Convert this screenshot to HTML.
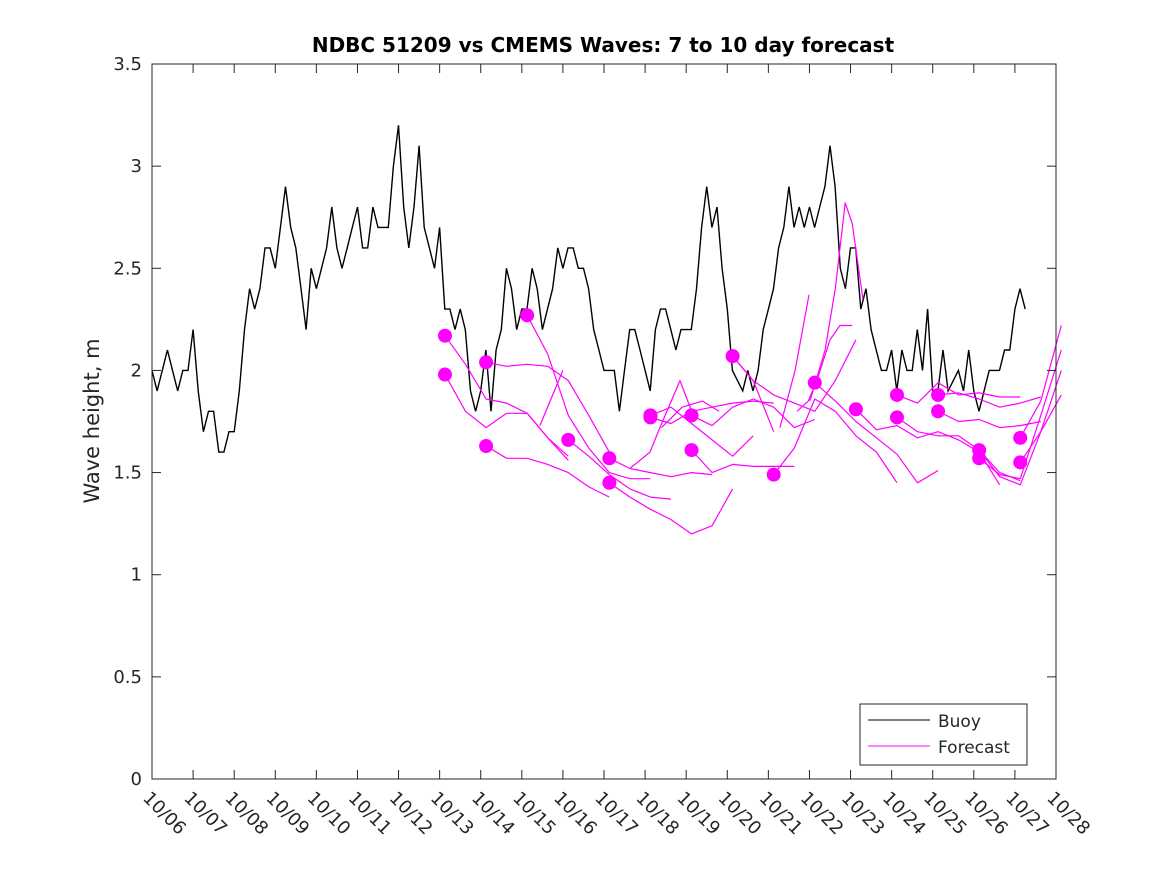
<!DOCTYPE html>
<html><head><meta charset="utf-8"><style>
body{margin:0;background:#fff;}
svg{display:block;font-family:"DejaVu Sans","Liberation Sans",sans-serif;}
</style></head><body>
<svg id="chart" width="1167" height="875" viewBox="0 0 1167 875">
<rect x="0" y="0" width="1167" height="875" fill="#fff"/>
<text x="603" y="52" text-anchor="middle" font-size="20" font-weight="bold">NDBC 51209 vs CMEMS Waves: 7 to 10 day forecast</text>
<text transform="translate(99,421) rotate(-90)" text-anchor="middle" font-size="21" fill="#262626">Wave height, m</text>
<g id="series"></g>
<rect x="152" y="64" width="904" height="715" fill="none" stroke="#262626" stroke-width="1"/>
<g id="axes"></g>
<g>
<rect x="860" y="704" width="167" height="61" fill="#fff" stroke="#262626" stroke-width="1"/>
<line x1="868" y1="720" x2="930" y2="720" stroke="#000" stroke-width="1"/>
<text x="938" y="727" font-size="17" fill="#262626">Buoy</text>
<line x1="868" y1="746" x2="930" y2="746" stroke="#f0f" stroke-width="1"/>
<text x="938" y="753" font-size="17" fill="#262626">Forecast</text>
</g>
</svg>
<script>
const xTickLabels=["10/06","10/07","10/08","10/09","10/10","10/11","10/12","10/13","10/14","10/15","10/16","10/17","10/18","10/19","10/20","10/21","10/22","10/23","10/24","10/25","10/26","10/27","10/28"];
const yTicks=[0,0.5,1,1.5,2,2.5,3,3.5];
const yTickLabels=["0","0.5","1","1.5","2","2.5","3","3.5"];
// buoy values every 0.125 day from 10/06
const buoyStep=0.125;
const buoyValues=[
2.0,1.9,2.0,2.1,2.0,1.9,2.0,2.0,2.2,1.9,1.7,1.8,1.8,1.6,1.6,1.7,1.7,1.9,2.2,2.4,
2.3,2.4,2.6,2.6,2.5,2.7,2.9,2.7,2.6,2.4,2.2,2.5,2.4,2.5,2.6,2.8,2.6,2.5,2.6,2.7,
2.8,2.6,2.6,2.8,2.7,2.7,2.7,3.0,3.2,2.8,2.6,2.8,3.1,2.7,2.6,2.5,2.7,2.3,2.3,
2.2,2.3,2.2,1.9,1.8,1.9,2.1,1.8,2.1,2.2,2.5,2.4,2.2,2.3,2.3,2.5,2.4,2.2,2.3,2.4,
2.6,2.5,2.6,2.6,2.5,2.5,2.4,2.2,2.1,2.0,2.0,2.0,1.8,2.0,2.2,2.2,2.1,2.0,1.9,2.2,
2.3,2.3,2.2,2.1,2.2,2.2,2.2,2.4,2.7,2.9,2.7,2.8,2.5,2.3,2.0,1.95,
1.9,2.0,1.9,2.0,2.2,2.3,2.4,2.6,2.7,2.9,2.7,2.8,2.7,2.8,2.7,2.8,2.9,3.1,2.9,2.5,
2.4,2.6,2.6,2.3,2.4,2.2,2.1,2.0,2.0,2.1,1.9,2.1,2.0,2.0,2.2,2.0,2.3,1.9,1.9,2.1,
1.9,1.95,2.0,1.9,2.1,1.9,1.8,1.9,2.0,2.0,2.0,2.1,2.1,2.3,2.4,2.3];
// forecast runs: start day (days since 10/06), values every 0.5 day
const fcStart=[7.13,7.13,8.13,8.13,9.13,10.13,11.13,11.13,12.13,12.13,13.13,13.13,14.13,14.13,15.13,16.13,17.13,18.13,18.13,19.13,19.13,20.13,20.13,21.13,21.13];
const fcValues=[
[2.17,2.03,1.86,1.84,1.79,1.67,1.56],
[1.98,1.80,1.72,1.79,1.79,1.67,1.58],
[2.04,2.02,2.03,2.02,1.95,1.78,1.60],
[1.63,1.57,1.57,1.54,1.50,1.43,1.38],
[2.27,2.08,1.78,1.62,1.50,1.47,1.47],
[1.66,1.58,1.49,1.42,1.38,1.37],
[1.57,1.52,1.50,1.48,1.50,1.49],
[1.45,1.38,1.32,1.27,1.20,1.24,1.42],
[1.78,1.82,1.74,1.66,1.58,1.68],
[1.77,1.74,1.80,1.82,1.84,1.85,1.84],
[1.78,1.73,1.82,1.86,1.82,1.72,1.76],
[1.61,1.50,1.54,1.53,1.53,1.53],
[2.07,1.95,1.88,1.84,1.80,1.95,2.15],
[2.07,1.95,1.70],
[1.49,1.62,1.86,1.80,1.68,1.60,1.45],
[1.94,1.85,1.75,1.67,1.59,1.45,1.51],
[1.81,1.71,1.73,1.67,1.70,1.66,1.60,1.44],
[1.88,1.84,1.94,1.88,1.89,1.87,1.87],
[1.77,1.70,1.68,1.68,1.61,1.50,1.46],
[1.88,1.89,1.86,1.82,1.84,1.87],
[1.80,1.75,1.76,1.72,1.73,1.75],
[1.61,1.48,1.44,1.70,2.0],
[1.57,1.49,1.47,1.78,2.1],
[1.67,1.85,2.22],
[1.55,1.70,1.88]
];
const fcDot=[1,1,1,1,1,1,1,1,1,1,1,1,1,0,1,1,1,1,1,1,1,1,1,1,1];
// extra forecast segments whose start markers are hidden
const extraDays=[[15.28,15.65,15.99],[16.01,16.38,16.63,16.87,17.04,17.3],[15.70,15.97,16.18,16.5,16.74,17.04],[11.63,12.12,12.36,12.85,13.17],[9.44,10.0],[12.4,12.9,13.4,13.8]];
const extraVals=[[1.72,2.0,2.37],[1.85,2.1,2.4,2.82,2.72,2.35],[1.80,1.85,1.95,2.15,2.22,2.22],[1.52,1.6,1.72,1.95,1.78],[1.73,2.0],[1.72,1.82,1.85,1.80]];

const X0=152,X1=1056,Y0=779,Y1=64;
const xs=d=>X0+d*(X1-X0)/22;
const ys=v=>Y0-v*(Y0-Y1)/3.5;
const NS="http://www.w3.org/2000/svg";
const axes=document.getElementById('axes'),series=document.getElementById('series');
function mk(tag,attrs,parent){const e=document.createElementNS(NS,tag);for(const k in attrs)e.setAttribute(k,attrs[k]);parent.appendChild(e);return e;}
xTickLabels.forEach((lab,i)=>{
  const x=xs(i);
  const t=mk('line',{x1:x,y1:Y0,x2:x,y2:Y0-9,stroke:'#262626'},axes);
  
  
  const t2=mk('line',{x1:x,y1:Y1,x2:x,y2:Y1+9,stroke:'#262626'},axes);
  
  
  const tx=mk('text',{transform:`translate(${x-10},${Y0+20}) rotate(45)`,'font-size':18,fill:'#262626'},axes);
  tx.textContent=lab;
  
  
});
yTicks.forEach((v,i)=>{
  const y=ys(v);
  const t=mk('line',{x1:X0,y1:y,x2:X0+9,y2:y,stroke:'#262626'},axes);
  
  
  const t2=mk('line',{x1:X1,y1:y,x2:X1-9,y2:y,stroke:'#262626'},axes);
  
  
  const tx=mk('text',{x:X0-10,y:y+6,'text-anchor':'end','font-size':18,fill:'#262626'},axes);
  tx.textContent=yTickLabels[i];
  
  
});
// buoy
const bp=buoyValues.map((v,i)=>xs(i*buoyStep).toFixed(1)+','+ys(v).toFixed(1)).join(' ');
const bl=mk('polyline',{points:bp,fill:'none',stroke:'#000','stroke-width':1.4},series);


// forecasts
fcValues.forEach((vals,k)=>{
  const p=vals.map((v,i)=>xs(fcStart[k]+i*0.5).toFixed(1)+','+ys(v).toFixed(1)).join(' ');
  const l=mk('polyline',{points:p,fill:'none',stroke:'#f0f','stroke-width':1.2,'stroke-linejoin':'round'},series);
  
  
});
extraDays.forEach((ds,k)=>{
  const p=ds.map((d,i)=>xs(d).toFixed(1)+','+ys(extraVals[k][i]).toFixed(1)).join(' ');
  const l=mk('polyline',{points:p,fill:'none',stroke:'#f0f','stroke-width':1.2,'stroke-linejoin':'round'},series);
  
  
});
fcValues.forEach((vals,k)=>{
  if(!fcDot[k])return;
  const c=mk('circle',{cx:xs(fcStart[k]),cy:ys(vals[0]),r:7,fill:'#f0f'},series);
  
  
});
</script>
</body></html>
